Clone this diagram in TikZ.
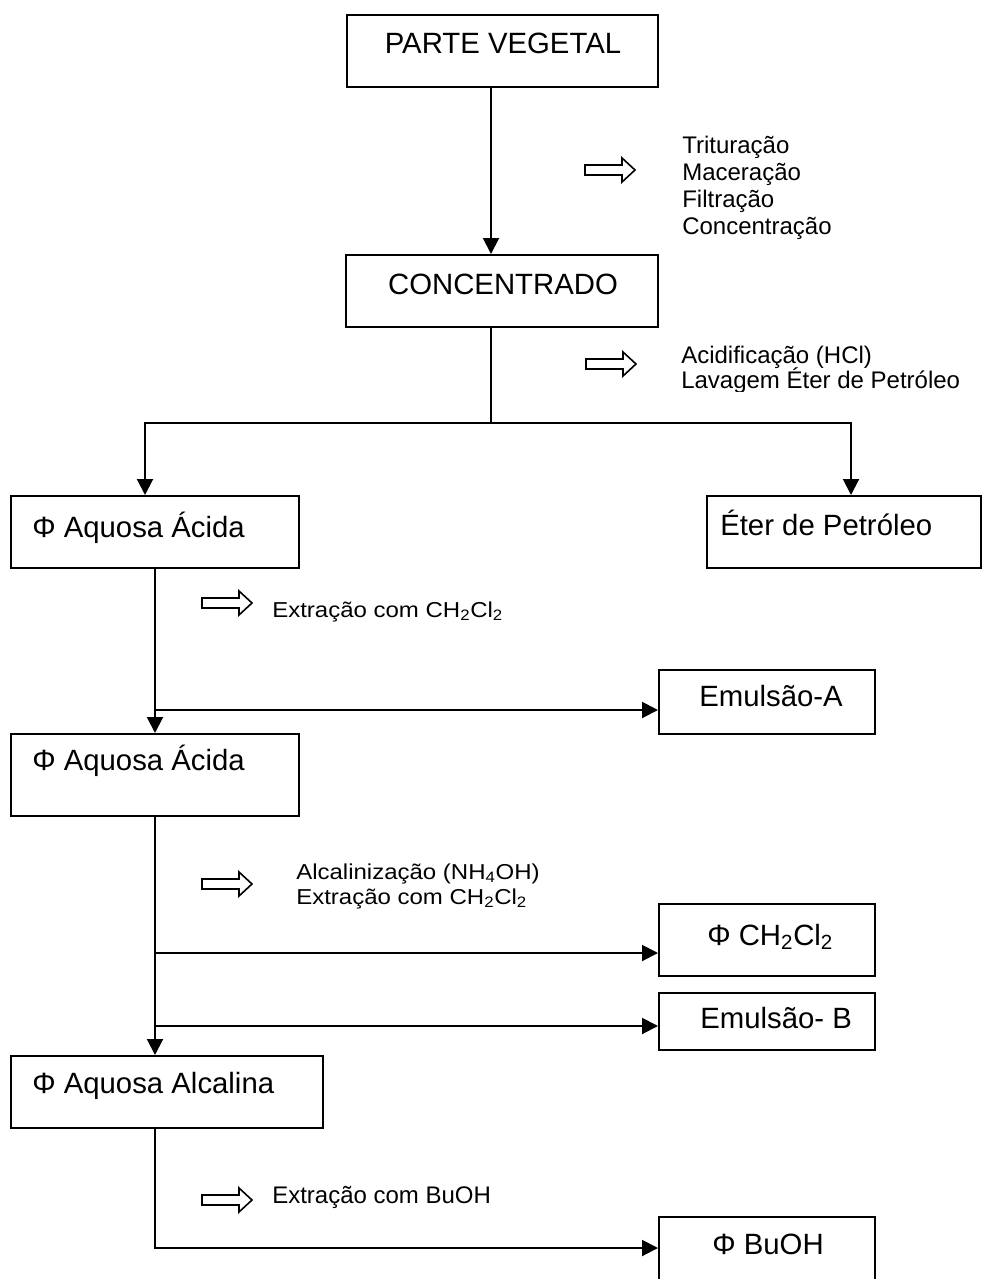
\documentclass[tikz,border=0pt]{standalone}
\usepackage{fontspec}
\setmainfont{Liberation Sans}
\usepackage{graphicx}
\usetikzlibrary{arrows.meta,fit}

\newcommand{\squash}[1]{\scalebox{1}[0.9]{#1}}

\begin{document}
\begin{tikzpicture}[x=0.75pt,y=0.75pt,yscale=-1,
  box/.style={draw, line width=1.5pt, inner sep=0pt},
  big/.style={inner sep=0pt, font=\fontsize{22}{26}\selectfont},
  small/.style={inner sep=0pt, font=\fontsize{18}{21}\selectfont},
  flow/.style={line width=1.5pt, -{Triangle[length=12pt,width=12pt]}},
  hollowarrow/.pic={\draw[line width=1.2pt] (-25,-5) -- (12,-5) -- (12,-12) -- (25,0) -- (12,12) -- (12,5) -- (-25,5) -- cycle;}]
\useasboundingbox (0,0) rectangle (983,1279);
\clip (0,0) rectangle (983,1279);

%Shape: Rectangle
\node[box, fit={(347,15) (658,87)}] (pv) {};
\node[box, fit={(346,255) (658,327)}] (conc) {};
\node[box, fit={(11,496) (299,568)}] (aq1) {};
\node[box, fit={(707,496) (981,568)}] (eter) {};
\node[box, fit={(659,670) (875,734)}] (emA) {};
\node[box, fit={(11,734) (299,816)}] (aq2) {};
\node[box, fit={(659,904) (875,976)}] (ch) {};
\node[box, fit={(659,993) (875,1050)}] (emB) {};
\node[box, fit={(11,1056) (323,1128)}] (aq3) {};
\node[box, fit={(659,1217) (875,1292)}] (bu) {};

%Branch points
\coordinate (trunk) at (491,0);
\coordinate (lt) at (155,0);
\coordinate (jL) at (145,423);
\coordinate (jR) at (851,423);
\coordinate (bA) at (155,710);
\coordinate (bC) at (155,953);
\coordinate (bB) at (155,1026);
\coordinate (bD) at (155,1248);

%Straight Lines
\draw[flow] (pv.south -| trunk) -- (conc.north -| trunk);
\draw[flow] (conc.south -| trunk) |- (jL) -- (jL |- aq1.north);
\draw[flow] (trunk |- jR) -- (jR) -- (jR |- eter.north);
\draw[flow] (aq1.south -| lt) -- (aq2.north -| lt);
\draw[flow] (bA) -- (bA -| emA.west);
\draw[flow] (aq2.south -| lt) -- (aq3.north -| lt);
\draw[flow] (bC) -- (bC -| ch.west);
\draw[flow] (bB) -- (bB -| emB.west);
\draw[flow] (aq3.south -| lt) -- (bD) -- (bD -| bu.west);

%Shape: Hollow arrows
\pic at (610,170) {hollowarrow};
\pic at (611,364) {hollowarrow};
\pic at (227,603) {hollowarrow};
\pic at (227,884) {hollowarrow};
\pic at (227,1200) {hollowarrow};

% Text Node
\node[big, anchor=base] (pvt) at (503,53) {PARTE VEGETAL};
\node[big, anchor=base] (conct) at (503,294) {CONCENTRADO};
\node[big, anchor=base west] (aq1t) at (32,537) {Φ Aquosa Ácida};
\node[big, anchor=base west] (etert) at (720,535) {Éter de Petróleo};
\node[big, anchor=base west] (emAt) at (699,706) {Emulsão-A};
\node[big, anchor=base west] (aq2t) at (32,770) {Φ Aquosa Ácida};
\node[big, anchor=base west] (cht) at (707,945) {Φ CH\textsubscript{2}Cl\textsubscript{2}};
\node[big, anchor=base west] (emBt) at (700,1028) {Emulsão- B};
\node[big, anchor=base west] (aq3t) at (32,1093) {Φ Aquosa Alcalina};
\node[big, anchor=base west] (but) at (712,1254) {Φ BuOH};

% Text Node
\node[small, anchor=base west] (s1) at (682,153) {Trituração};
\node[small, anchor=base west] (s2) at (682,180) {Maceração};
\node[small, anchor=base west] (s3) at (682,207) {Filtração};
\node[small, anchor=base west] (s4) at (682,234) {Concentração};
\node[small, anchor=base west] (s5) at (681,363) {Acidificação (HCl)};
\begin{scope}
\clip (600,330) rectangle (983,391);
\node[small, anchor=base west] (s6) at (681,388) {Lavagem Éter de Petróleo};
\end{scope}
\node[small, anchor=base west] (s7) at (272,617) {\squash{Extração com CH\textsubscript{2}Cl\textsubscript{2}}};
\node[small, anchor=base west] (s8) at (296,879) {\squash{Alcalinização (NH\textsubscript{4}OH)}};
\node[small, anchor=base west] (s9) at (296,904) {\squash{Extração com CH\textsubscript{2}Cl\textsubscript{2}}};
\node[small, anchor=base west] (s10) at (272,1203) {Extração com BuOH};

\end{tikzpicture}
\end{document}
